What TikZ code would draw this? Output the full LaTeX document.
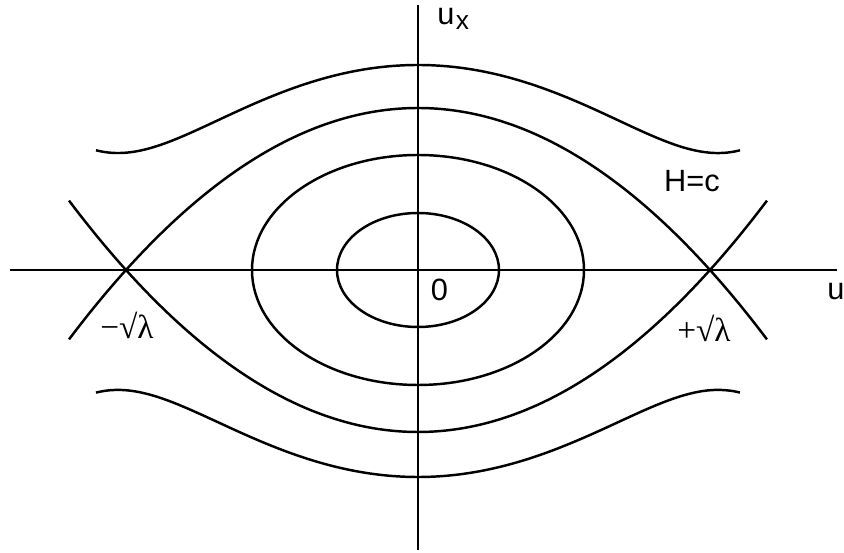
\documentclass[tikz,border=0pt]{standalone}
\usepackage{fontspec}
\setmainfont{Liberation Sans}
\newfontfamily\lamfont{Liberation Serif}
\usepackage{tikz}
\usetikzlibrary{positioning}

\begin{document}
\begin{tikzpicture}[
  axis/.style={line width=1.3pt},
  orbit/.style={line width=1.4pt,smooth},
  lbl/.style={font=\fontsize{17.5}{20}\selectfont,inner sep=0pt},
  lam/.style={font=\fontsize{19}{22}\selectfont\lamfont,inner sep=0pt}]
  \useasboundingbox (-8.36,-5.66) rectangle (8.52,5.4);
  % Axes
  \draw[axis] (0,-5.6) -- (0,5.3);
  \draw[axis] (-8.16,0) -- (8.38,0);
  % Closed orbits round the centre
  \draw[orbit] (0,0) ellipse [x radius=1.62cm,y radius=1.14cm];
  \draw[orbit] (0,0) ellipse [x radius=3.32cm,y radius=2.3cm];
  % Separatrices through the saddles
  \draw[orbit] plot[domain=-6.98:6.98,samples=80] (\x,{3.24*(1-(\x/5.84)^2)});
  \draw[orbit] plot[domain=-6.98:6.98,samples=80] (\x,{-3.24*(1-(\x/5.84)^2)});
  % Open orbits
  \draw[orbit] plot[domain=-6.44:6.44,samples=100] (\x,{sqrt(16.81-0.6297*\x*\x+0.008745*\x*\x*\x*\x)});
  \draw[orbit] plot[domain=-6.44:6.44,samples=100] (\x,{-sqrt(17.14-0.6322*\x*\x+0.008781*\x*\x*\x*\x)});
  % Labels
  \node[lbl,anchor=base west] (ux) at (0.38,4.9) {u\kern0.03cm\raisebox{-0.1cm}{\fontsize{15}{18}\selectfont x}};
  \node[lbl] (u) at (8.36,-0.44) {u};
  \node[lbl] (orig) at (0.43,-0.4) {0};
  \node[lbl] (hc) at (5.48,1.78) {H=c};
  \node[lam] (minus) at (-5.82,-1.1) {−√λ};
  \node[lam] (plus) at (5.72,-1.16) {+√λ};
\end{tikzpicture}
\end{document}
